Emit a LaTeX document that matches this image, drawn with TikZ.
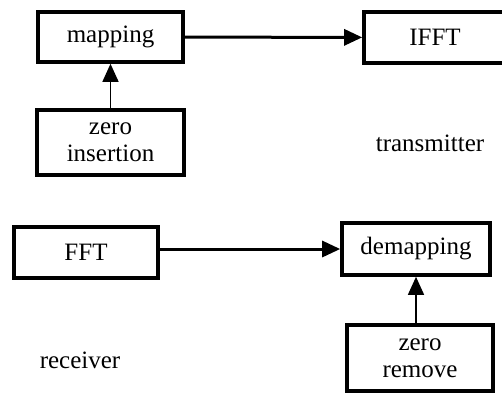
\documentclass[tikz,border=0pt]{standalone}
\usepackage{fontspec}
\setmainfont{Liberation Serif}
\usetikzlibrary{arrows.meta}
\tikzset{
  blockbox/.style={draw=black, line width=1.8pt, align=center, inner sep=0pt,
    font=\fontsize{12.5}{13.5}\selectfont},
  mainflow/.style={line width=1.5pt, -{Triangle[length=9pt,width=8pt]}},
  sideflow/.style={line width=0.7pt, -{Triangle[length=9pt,width=8pt]}},
  tag/.style={font=\fontsize{12.5}{13.5}\selectfont}
}

\begin{document}
\begin{tikzpicture}[x=0.5pt,y=-0.5pt]
\useasboundingbox (0,0) rectangle (502,392);
% transmitter
\node[blockbox, minimum width=72.5pt, minimum height=25pt] (map) at (110.5,37) {mapping};
\node[blockbox, minimum width=73.5pt, minimum height=32.5pt] (zins) at (110.5,142.5) {zero\\insertion};
\node[blockbox, minimum width=74pt, minimum height=25.5pt] (ifft) at (438,37.5) {\hspace*{-3pt}IFFT};
\node[tag] (tx) at (430,143) {transmitter};
\draw[mainflow] (map) -- (ifft);
\draw[sideflow] (zins) -- (map);
% receiver
\node[blockbox, minimum width=72pt, minimum height=25.5pt] (fft) at (86,252.5) {FFT};
\node[blockbox, minimum width=74pt, minimum height=26pt] (demap) at (416,249) {demapping};
\node[blockbox, minimum width=73pt, minimum height=33pt] (zrem) at (420,358) {zero\\remove};
\node[tag] (rx) at (80,360) {receiver};
\draw[mainflow] (fft.east |- demap.west) -- (demap.west);
\draw[sideflow] (zrem.north -| demap.south) -- (demap.south);
\end{tikzpicture}
\end{document}
